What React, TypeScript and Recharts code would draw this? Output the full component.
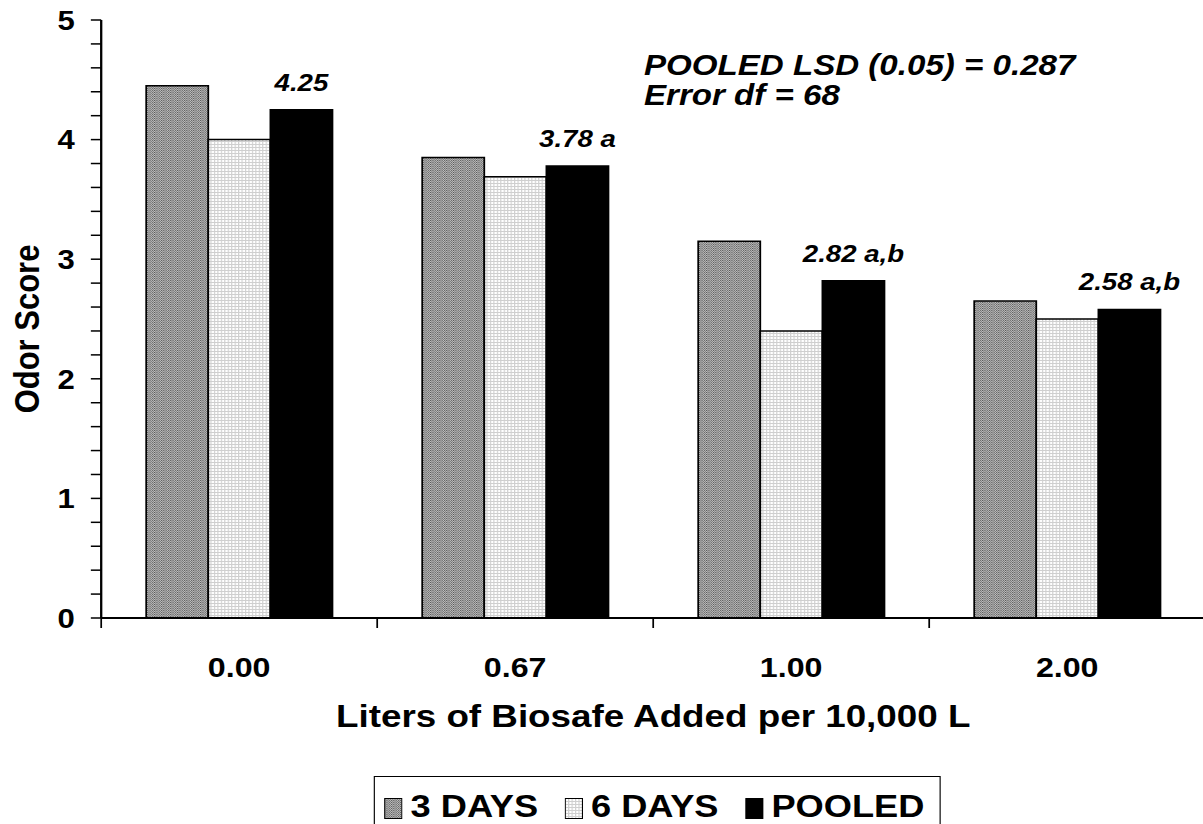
import React from "react";
import {
  BarChart,
  Bar,
  XAxis,
  YAxis,
  Legend,
  LabelList,
  Customized,
} from "recharts";

const categories = ["0.00", "0.67", "1.00", "2.00"];
const days3 = [4.45, 3.85, 3.15, 2.65];
const days6 = [4.0, 3.69, 2.4, 2.5];
const pooled = [4.25, 3.78, 2.82, 2.58];
const pooledLabels = ["4.25", "3.78 a", "2.82 a,b", "2.58 a,b"];
const yTicks = [
  0, 0.2, 0.4, 0.6, 0.8, 1, 1.2, 1.4, 1.6, 1.8, 2, 2.2, 2.4, 2.6, 2.8, 3,
  3.2, 3.4, 3.6, 3.8, 4, 4.2, 4.4, 4.6, 4.8, 5,
];
const seriesNames = ["3 DAYS", "6 DAYS", "POOLED"];
const noteLines = ["POOLED LSD (0.05) = 0.287", "Error df = 68"];

const data = categories.map((cat, i) => ({
  cat,
  d3: days3[i],
  d6: days6[i],
  pooled: pooled[i],
  label: pooledLabels[i],
}));

// the original picture is stretched sideways, so the chart is drawn narrower and scaled
const STRETCH = 1.15;
const FONT = "'Liberation Sans', Arial, Helvetica, sans-serif";

const YTick = (props: any) => {
  const { x, y, payload } = props;
  if (!Number.isInteger(payload.value)) return <g />;
  return (
    <text
      x={x}
      y={y}
      dy="0.36em"
      textAnchor="end"
      fontSize={27}
      fontWeight="bold"
      fontFamily={FONT}
      fill="#000"
    >
      {payload.value}
    </text>
  );
};

const XTick = (props: any) => {
  const { x, y, payload, index } = props;
  const half = payload.offset ?? 120;
  return (
    <g>
      <line x1={x - half} x2={x - half} y1={y} y2={y + 10} stroke="#000" strokeWidth={1.5} />
      {index === categories.length - 1 && (
        <line x1={x + half} x2={x + half} y1={y} y2={y + 10} stroke="#000" strokeWidth={1.5} />
      )}
      <text
        x={x}
        y={y + 59}
        textAnchor="middle"
        fontSize={28}
        fontWeight="bold"
        fontFamily={FONT}
        fill="#000"
      >
        {payload.value}
      </text>
    </g>
  );
};

const XTitle = (props: any) => {
  const { viewBox } = props;
  return (
    <text
      x={viewBox.x + viewBox.width / 2}
      y={viewBox.y + 109}
      textAnchor="middle"
      fontSize={32}
      fontWeight="bold"
      fontFamily={FONT}
      fill="#000"
    >
      Liters of Biosafe Added per 10,000 L
    </text>
  );
};

const YTitle = (props: any) => {
  const { viewBox } = props;
  const cx = 23;
  const cy = viewBox.y + viewBox.height / 2 + 10;
  return (
    <text
      x={cx}
      y={cy}
      transform={`rotate(-90 ${cx} ${cy})`}
      textAnchor="middle"
      dominantBaseline="central"
      fontSize={31}
      fontWeight="bold"
      fontFamily={FONT}
      fill="#000"
    >
      Odor Score
    </text>
  );
};

const PooledLabel = (props: any) => {
  const { x, y, width, value } = props;
  return (
    <text
      x={x + width / 2}
      y={y - 19}
      textAnchor="middle"
      fontSize={24}
      fontWeight="bold"
      fontStyle="italic"
      fontFamily={FONT}
      fill="#000"
    >
      {value}
    </text>
  );
};

const Note = () => (
  <g>
    {noteLines.map((t, i) => (
      <text
        key={t}
        x={560}
        y={75 + i * 30}
        fontSize={28.8}
        fontWeight="bold"
        fontStyle="italic"
        fontFamily={FONT}
        fill="#000"
      >
        {t}
      </text>
    ))}
  </g>
);

const swatchFills = ["url(#pat3)", "url(#pat6)", "#000"];

const LegendBox = () => (
  <div style={{ height: 64, position: "relative" }}>
    <div
      style={{
        position: "absolute",
        left: 325,
        top: 0,
        width: 493,
        height: 56,
        border: "1px solid #000",
        boxSizing: "border-box",
        background: "#fff",
        display: "flex",
        flexWrap: "nowrap",
        alignItems: "flex-start",
        paddingTop: 11,
        paddingLeft: 8,
        fontFamily: FONT,
        fontWeight: "bold",
        fontSize: 31.5,
        lineHeight: "36px",
        color: "#000",
        whiteSpace: "nowrap",
        overflow: "hidden",
      }}
    >
      {seriesNames.map((name, i) => (
        <div
          key={name}
          style={{
            display: "flex",
            alignItems: "center",
            flexShrink: 0,
            marginRight: i < seriesNames.length - 1 ? 23 : 0,
          }}
        >
          <svg width={16} height={21} style={{ marginRight: 7, marginTop: 4, flexShrink: 0 }}>
            <rect x={0.5} y={0.5} width={15} height={20} fill={swatchFills[i]} stroke="#000" strokeWidth={1} />
          </svg>
          <span>{name}</span>
        </div>
      ))}
    </div>
  </div>
);

export default function App() {
  return (
    <div
      style={{
        position: "absolute",
        left: 0,
        top: 0,
        width: 1203,
        height: 824,
        overflow: "hidden",
        background: "#fff",
      }}
    >
      <div style={{ transform: `scaleX(${STRETCH})`, transformOrigin: "0 0", width: 1048 }}>
        <BarChart
          width={1048}
          height={840}
          data={data}
          margin={{ top: 20, right: 0, bottom: 0, left: 0 }}
          barCategoryGap="16.3%"
          barGap={0}
        >
          <defs>
            <pattern id="pat3" width="2" height="2" patternUnits="userSpaceOnUse">
              <rect width="2" height="2" fill="#c0c0c0" />
              <rect width="1" height="1" fill="#5a5a5a" />
              <rect x="1" y="1" width="1" height="1" fill="#7a7a7a" />
            </pattern>
            <pattern id="pat6" width="3" height="3" patternUnits="userSpaceOnUse">
              <rect width="3" height="3" fill="#fff" />
              <rect width="3" height="1" fill="#cfcfcf" />
              <rect width="1" height="3" fill="#cfcfcf" />
            </pattern>
          </defs>
          <XAxis
            dataKey="cat"
            height={158}
            tickSize={0}
            tickMargin={0}
            tickLine={false}
            interval={0}
            axisLine={{ stroke: "#000", strokeWidth: 2 }}
            tick={<XTick />}
            label={<XTitle />}
          />
          <YAxis
            type="number"
            domain={[0, 5]}
            ticks={yTicks}
            interval={0}
            width={88}
            tickSize={9}
            tickMargin={14}
            axisLine={{ stroke: "#000", strokeWidth: 2 }}
            tickLine={{ stroke: "#000", strokeWidth: 1.5 }}
            tick={<YTick />}
            label={<YTitle />}
          />
          <Legend verticalAlign="bottom" align="left" content={<LegendBox />} wrapperStyle={{ left: 0, width: 1048 }} />
          <Bar dataKey="d3" name={seriesNames[0]} fill="url(#pat3)" stroke="#000" strokeWidth={1.5} isAnimationActive={false} />
          <Bar dataKey="d6" name={seriesNames[1]} fill="url(#pat6)" stroke="#000" strokeWidth={1.5} isAnimationActive={false} />
          <Bar dataKey="pooled" name={seriesNames[2]} fill="#000" stroke="#000" strokeWidth={1.5} isAnimationActive={false}>
            <LabelList dataKey="label" content={<PooledLabel />} />
          </Bar>
          <Customized component={<Note />} />
        </BarChart>
      </div>
    </div>
  );
}
